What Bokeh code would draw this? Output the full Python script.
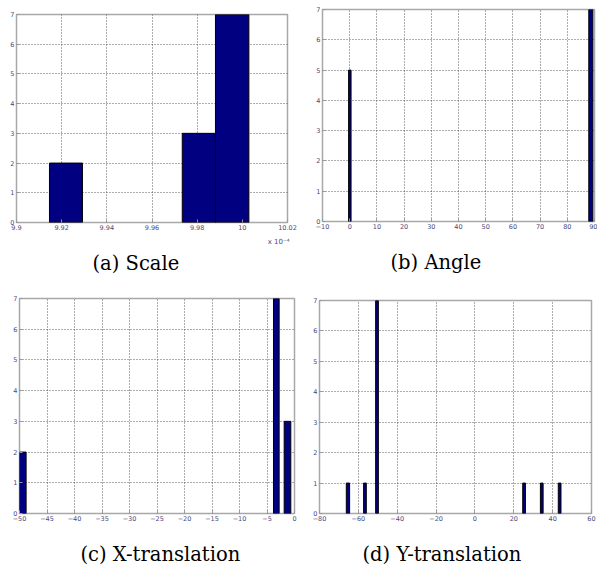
from bokeh.plotting import figure
from bokeh.layouts import column, row
from bokeh.models import Range1d, FixedTicker, Title
from bokeh.embed import file_html
from bokeh.resources import INLINE

# ---------------- data ----------------
# (a) Scale (x 10^-4)
scale_left = [9.9146, 9.9734, 9.9881]
scale_right = [9.9292, 9.9881, 10.0029]
scale_count = [2, 3, 7]
scale_ticks = [9.9, 9.92, 9.94, 9.96, 9.98, 10.0, 10.02]
scale_tick_labels = ["9.9", "9.92", "9.94", "9.96", "9.98", "10", "10.02"]

# (b) Angle
angle_left = [-0.4, 87.9]
angle_right = [0.5, 89.4]
angle_count = [5, 7]
angle_ticks = [-10, 0, 10, 20, 30, 40, 50, 60, 70, 80, 90]

# (c) X-translation
xt_left = [-50.0, -3.82, -1.88]
xt_right = [-48.8, -2.79, -0.67]
xt_count = [2, 7, 3]
xt_ticks = [-50, -45, -40, -35, -30, -25, -20, -15, -10, -5, 0]

# (d) Y-translation
yt_left = [-66.2, -57.3, -51.1, 24.6, 33.7, 42.9]
yt_right = [-64.5, -55.9, -49.7, 26.0, 35.1, 44.3]
yt_count = [1, 1, 7, 1, 1, 1]
yt_ticks = [-80, -60, -40, -20, 0, 20, 40, 60]

count_ticks = [0, 1, 2, 3, 4, 5, 6, 7]

captions = ["(a) Scale", "(b) Angle", "(c) X-translation", "(d) Y-translation"]
scale_multiplier = "x 10\u207b\u2074"

BAR = "#000080"
TICKC = "#4a4a78"
SERIF = "DejaVu Serif"


def make_panel(w, h, xr, xticks, left, right, counts, borders, labels=None):
    bl, br, bt, bb = borders
    p = figure(width=w, height=h, output_backend="svg", toolbar_location=None,
               x_range=Range1d(*xr), y_range=Range1d(0, 7),
               min_border_left=bl, min_border_right=br,
               min_border_top=bt, min_border_bottom=bb)
    p.frame_align = False
    p.quad(left=left, right=right, top=counts, bottom=0,
           fill_color=BAR, line_color="black", line_width=1)
    p.xaxis.ticker = FixedTicker(ticks=xticks)
    p.yaxis.ticker = FixedTicker(ticks=count_ticks)
    if labels is not None:
        p.xaxis.major_label_overrides = {t: l for t, l in zip(xticks, labels)}
    for ax in (p.xaxis[0], p.yaxis[0]):
        ax.axis_line_color = None
        ax.major_tick_in = 3
        ax.major_tick_out = 0
        ax.major_tick_line_color = "#999999"
        ax.minor_tick_line_color = None
        ax.major_label_text_font = "DejaVu Sans"
        ax.major_label_text_font_size = "6.5px"
        ax.major_label_text_color = TICKC
        ax.major_label_standoff = 2
    p.xgrid.grid_line_color = "#333333"
    p.ygrid.grid_line_color = "#333333"
    p.xgrid.grid_line_dash = "1 2"
    p.ygrid.grid_line_dash = "1 2"
    p.xgrid.grid_line_alpha = 0.8
    p.ygrid.grid_line_alpha = 0.8
    p.outline_line_color = "#a8a8a8"
    p.outline_line_width = 1.5
    p.background_fill_color = "white"
    p.border_fill_color = "white"
    return p


def small_title(p, text):
    p.add_layout(Title(text=text, align="right", offset=-2, standoff=6,
                       text_font="DejaVu Sans", text_font_size="7px",
                       text_font_style="normal", text_color=TICKC), "below")


def caption(p, text, offset):
    p.add_layout(Title(text=text, align="left", offset=offset, standoff=2,
                       text_font=SERIF, text_font_size="19.5px", text_font_style="normal",
                       text_color="black"), "below")


pa = make_panel(298, 280, (9.9, 10.02), scale_ticks, scale_left, scale_right, scale_count,
                (16, 11, 14, 58), scale_tick_labels)
small_title(pa, scale_multiplier)
caption(pa, captions[0], 76)

pb = make_panel(299, 280, (-10, 90), angle_ticks, angle_left, angle_right, angle_count,
                (24, 3, 9, 59))
small_title(pb, " ")
caption(pb, captions[1], 68)

pc = make_panel(298, 290, (-50, 0), xt_ticks, xt_left, xt_right, xt_count,
                (19, 4, 18, 57))
small_title(pc, " ")
caption(pc, captions[2], 61)

pd = make_panel(299, 290, (-80, 60), yt_ticks, yt_left, yt_right, yt_count,
                (21, 6, 20, 57))
small_title(pd, " ")
caption(pd, captions[3], 43)

layout = column(row(pa, pb), row(pc, pd))

open("out.html", "w").write(file_html(layout, INLINE))
